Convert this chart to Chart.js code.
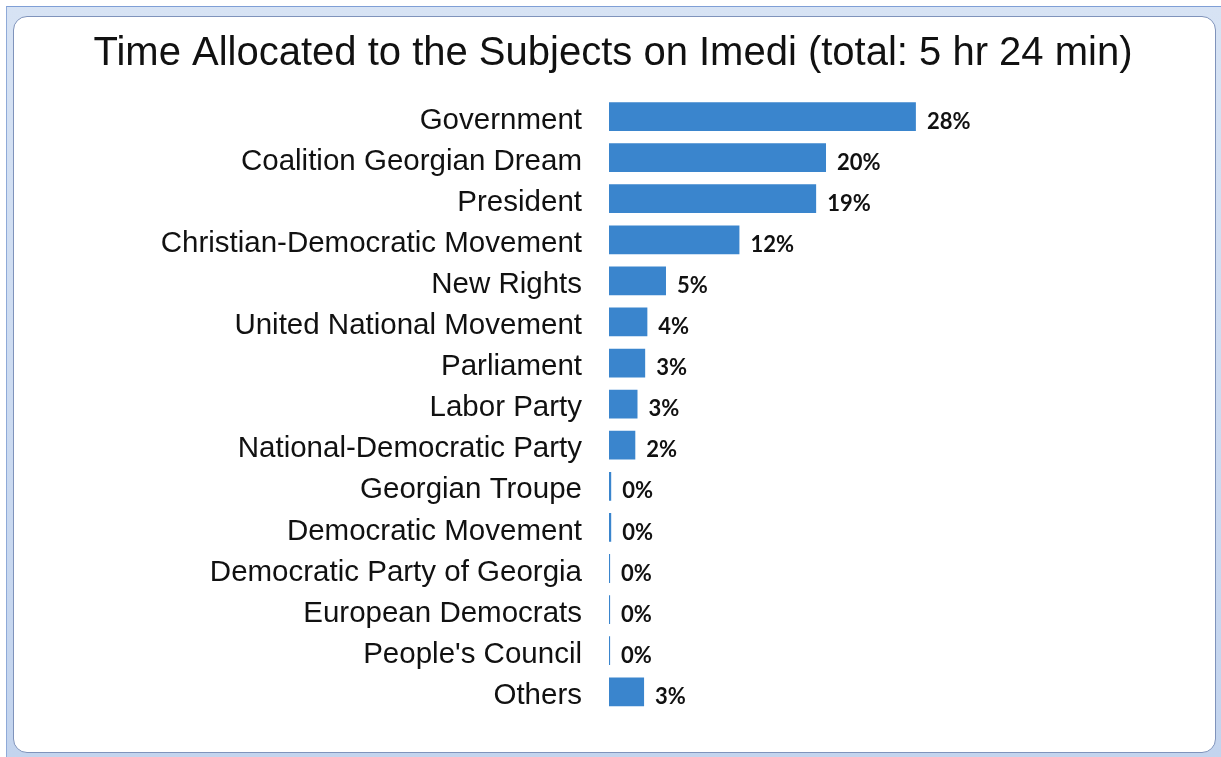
<!DOCTYPE html>
<html>
<head>
<meta charset="utf-8">
<script src="https://cdn.jsdelivr.net/npm/chart.js@4"></script>
<style>
  html, body { margin: 0; padding: 0; background: #ffffff; }
  body { width: 1221px; height: 757px; position: relative; overflow: hidden; }
  .frame {
    position: absolute; left: 6px; top: 6px; right: 0; bottom: 0;
    background: linear-gradient(#d7e3f4, #c3d4ee);
    border-top: 1px solid #7f9fd6;
    border-left: 1px solid #8faad8;
  }
  .panel {
    position: absolute; left: 13px; top: 16px; right: 5px; bottom: 4px;
    background: #ffffff;
    border: 1px solid #7f93bb;
    border-radius: 14px;
  }
  #chart { position: absolute; left: 0; top: 0; }
</style>
</head>
<body>
<div class="frame"></div>
<div class="panel"></div>
<canvas id="chart" width="1221" height="757"></canvas>
<script>
"use strict";

// Chart data
const chartTitle = "Time Allocated to the Subjects on Imedi (total: 5 hr 24 min)";
const subjects = [
  "Government",
  "Coalition Georgian Dream",
  "President",
  "Christian-Democratic Movement",
  "New Rights",
  "United National Movement",
  "Parliament",
  "Labor Party",
  "National-Democratic Party",
  "Georgian Troupe",
  "Democratic Movement",
  "Democratic Party of Georgia",
  "European Democrats",
  "People's Council",
  "Others"
];
const shares = [28, 19.8, 18.9, 11.9, 5.2, 3.5, 3.3, 2.6, 2.4, 0.2, 0.2, 0.1, 0.1, 0.1, 3.2];
const shareLabels = ["28%", "20%", "19%", "12%", "5%", "4%", "3%", "3%", "2%", "0%", "0%", "0%", "0%", "0%", "3%"];

// Draw the percentage next to each bar
const valueLabels = {
  id: "valueLabels",
  afterDatasetsDraw(chart) {
    const ctx = chart.ctx;
    const meta = chart.getDatasetMeta(0);
    ctx.save();
    ctx.font = "bold 22px Lato, 'Open Sans', sans-serif";
    ctx.fillStyle = "#111111";
    ctx.textAlign = "left";
    ctx.textBaseline = "middle";
    meta.data.forEach((bar, i) => {
      ctx.fillText(shareLabels[i], bar.x + 11, bar.y + 5);
    });
    ctx.restore();
  }
};

const ctx = document.getElementById("chart").getContext("2d");
new Chart(ctx, {
  type: "bar",
  data: {
    labels: subjects,
    datasets: [{
      data: shares,
      backgroundColor: "#3a85cd",
      borderWidth: 0,
      categoryPercentage: 1,
      barPercentage: 0.7
    }]
  },
  options: {
    indexAxis: "y",
    responsive: false,
    animation: false,
    // left/right padding also centres the title where the original has it
    layout: { padding: { left: 69, right: 64, top: 0, bottom: 36 } },
    plugins: {
      legend: { display: false },
      tooltip: { enabled: false },
      title: {
        display: true,
        text: chartTitle,
        color: "#111111",
        font: { family: "'Liberation Sans', Arial, sans-serif", size: 40, weight: "normal" },
        padding: { top: 30, bottom: 18 }
      }
    },
    scales: {
      x: { display: false, min: 0, max: 50 },
      y: {
        grid: { display: false, drawTicks: false },
        border: { display: false },
        ticks: {
          color: "#111111",
          padding: 27,
          labelOffset: 4,
          font: { family: "'Liberation Sans', Arial, sans-serif", size: 29.5 }
        },
        afterFit(scale) { scale.width = 609 - 69; }
      }
    }
  },
  plugins: [valueLabels]
});
</script>
</body>
</html>
